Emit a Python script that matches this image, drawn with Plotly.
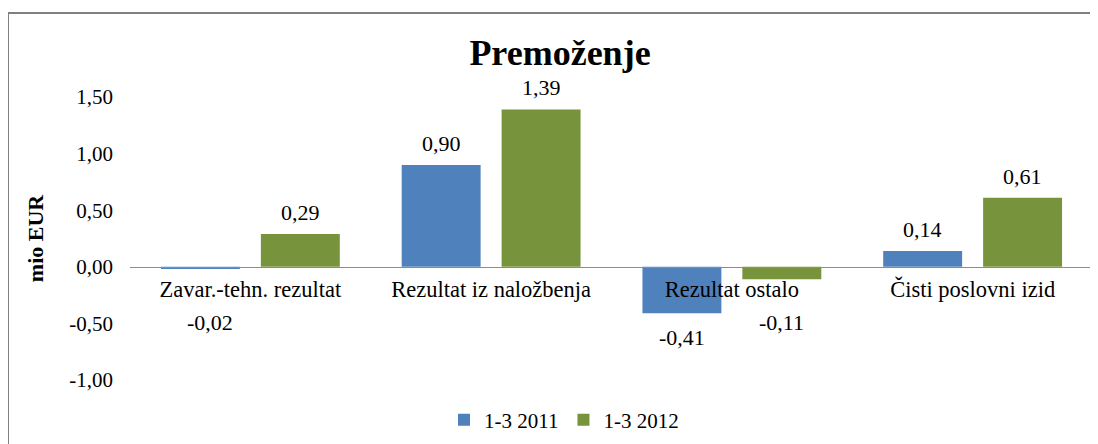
import plotly.graph_objects as go

categories = ["Zavar.-tehn. rezultat", "Rezultat iz naložbenja", "Rezultat ostalo", "Čisti poslovni izid"]
series_names = ["1-3 2011", "1-3 2012"]
values_2011 = [-0.02, 0.90, -0.41, 0.14]
values_2012 = [0.29, 1.39, -0.11, 0.61]
tick_vals = [-1.0, -0.5, 0.0, 0.5, 1.0, 1.5]
tick_text = ["-1,00", "-0,50", "0,00", "0,50", "1,00", "1,50"]

colors = ["#4F81BD", "#77933C"]
FONT = "Liberation Serif, Times New Roman, serif"
FS = 21

# page body has an 8px default margin -> figure coords = screen coords - 8
OFF = 8
W, H = 1098, 444
PL, PR, PT, PB = 130 - OFF, 1093 - OFF, 97 - OFF, 380 - OFF   # plot area in figure px
PW, PH = PR - PL, PB - PT

fig = go.Figure()
for name, vals, col in zip(series_names, [values_2011, values_2012], colors):
    fig.add_trace(go.Bar(x=categories, y=vals, name=name, marker_color=col,
                         marker_line_width=0, hoverinfo="skip"))

Y0, Y1 = -1.0, 1.5
zero_pos = (0 - Y0) / (Y1 - Y0)

def fmt(v):
    return f"{v:.2f}".replace(".", ",")

px_per_unit = PH / (Y1 - Y0)
annotations = []
for si, vals in enumerate([values_2011, values_2012]):
    for ci, v in enumerate(vals):
        xs = -50 if si == 0 else 50
        if v >= 0:
            annotations.append(dict(x=categories[ci], y=v, xref="x", yref="y",
                                    text=fmt(v), showarrow=False, yanchor="bottom",
                                    yshift=7, xshift=xs,
                                    font=dict(family=FONT, size=22, color="#000")))
        else:
            ly = min(v - 24 / px_per_unit, -0.495)
            annotations.append(dict(x=categories[ci], y=ly, xref="x", yref="y",
                                    text=fmt(v), showarrow=False, yanchor="middle",
                                    xshift=xs + (10 if abs(v) < 0.05 else 0),
                                    font=dict(family=FONT, size=22, color="#000")))

fig.update_layout(
    width=W, height=H,
    margin=dict(l=PL, r=W - PR, t=PT, b=H - PB, autoexpand=False),
    paper_bgcolor="white", plot_bgcolor="white",
    barmode="group", bargap=0.17, bargroupgap=0.21,
    title=dict(text="<b>Premoženje</b>", x=(560 - OFF) / W, xref="container", xanchor="center",
               y=1 - (52 - OFF) / H, yref="container", yanchor="middle",
               font=dict(family=FONT, size=36, color="#000")),
    font=dict(family=FONT, size=FS, color="#000"),
    showlegend=True,
    legend=dict(orientation="h", xref="container", x=(564 - OFF) / W, xanchor="center",
                yref="container", y=1 - (420 - OFF) / H, yanchor="middle",
                font=dict(family=FONT, size=FS, color="#000"),
                itemwidth=30, traceorder="normal"),
    annotations=annotations,
)

fig.update_xaxes(
    type="category", anchor="free", position=zero_pos, automargin=False,
    showline=True, linecolor="#8C8C8C", linewidth=1,
    ticks="", showgrid=False, zeroline=False,
    tickfont=dict(family=FONT, size=22.5, color="#000"),
    ticklabelstandoff=2,
)
fig.update_yaxes(
    range=[Y0, Y1], tickvals=tick_vals, ticktext=tick_text, automargin=False,
    showgrid=False, zeroline=False, showline=False, ticks="",
    tickfont=dict(family=FONT, size=FS, color="#000"),
    ticklabelstandoff=16,
    title=dict(text="<b>mio EUR</b>", font=dict(family=FONT, size=22, color="#000"),
               standoff=19),
)

fig.add_shape(type="rect", xref="paper", yref="paper",
              x0=(8 - OFF - PL) / PW, x1=(1110 - PL) / PW,
              y0=-(460 - PB) / PH, y1=1 + (PT - (13 - OFF)) / PH,
              line=dict(color="#808080", width=2), fillcolor="rgba(0,0,0,0)", layer="below")

fig.write_html("out.html")
